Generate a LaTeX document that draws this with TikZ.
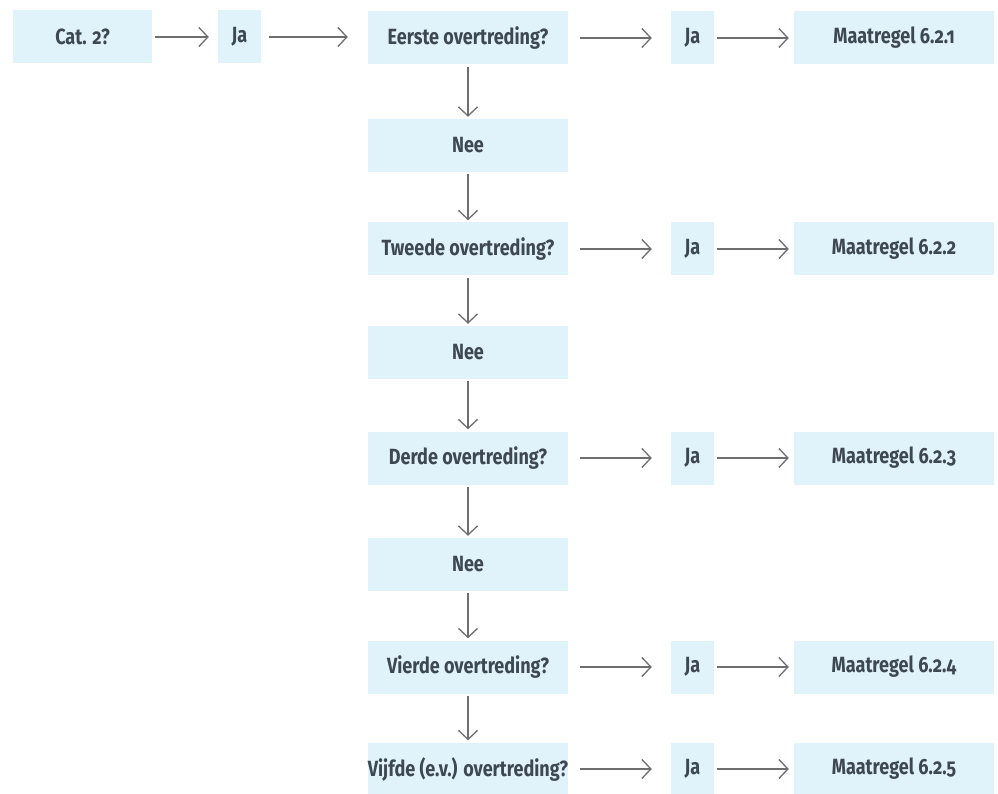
\documentclass[tikz,border=0pt]{standalone}
\usepackage{fontspec}
\setmainfont{Fira Sans}[Numbers=OldStyle, FakeStretch=0.82]
\usetikzlibrary{arrows.meta}
\definecolor{boxfill}{HTML}{E0F2FA}
\definecolor{boxtext}{HTML}{3D4852}
\definecolor{arrowgrey}{HTML}{6E6E6E}
\tikzset{
  box/.style={rectangle, fill=boxfill, draw=none, text=boxtext, minimum height=53pt,
    inner sep=0pt, font=\fontsize{22}{26}\selectfont\bfseries},
  widebox/.style={box, minimum width=200pt},
  jabox/.style={box, minimum width=43pt},
  catbox/.style={box, minimum width=139pt},
  arr/.style={draw=arrowgrey, line width=1.3pt, -{Straight Barb[length=9pt,width=19pt,line width=1.3pt]}}
}
\begin{document}
\begin{tikzpicture}[x=1pt,y=-1pt]
\useasboundingbox (0,0) rectangle (998,794);
% row 1
\node[catbox] (cat) at (82.5,37) {Cat. 2?};
\node[jabox] (ja0) at (239.5,37) {Ja};
\node[widebox] (e1) at (468,38) {Eerste overtreding?};
\node[jabox] (ja1) at (692.5,38) {Ja};
\node[widebox] (m1) at (894,38) {Maatregel 6.2.1};
\node[widebox] (n1) at (468,145.5) {Nee};
% row 2
\node[widebox] (e2) at (468,249) {Tweede overtreding?};
\node[jabox] (ja2) at (692.5,249) {Ja};
\node[widebox] (m2) at (894,249) {Maatregel 6.2.2};
\node[widebox] (n2) at (468,352.5) {Nee};
% row 3
\node[widebox] (e3) at (468,458) {Derde overtreding?};
\node[jabox] (ja3) at (692.5,458) {Ja};
\node[widebox] (m3) at (894,458) {Maatregel 6.2.3};
\node[widebox] (n3) at (468,564.5) {Nee};
% row 4
\node[widebox] (e4) at (468,667) {Vierde overtreding?};
\node[jabox] (ja4) at (692.5,667) {Ja};
\node[widebox] (m4) at (894,667) {Maatregel 6.2.4};
% row 5
\node[widebox] (e5) at (468,769) {Vijfde (e.v.) overtreding?};
\node[jabox] (ja5) at (692.5,769) {Ja};
\node[widebox] (m5) at (894,769) {Maatregel 6.2.5};
% horizontal connectors
\draw[arr] ([xshift=3pt]cat.east) -- ([xshift=-9pt]ja0.west);
\draw[arr] ([xshift=8pt]ja0.east) -- ([xshift=-20pt]ja0.east -| e1.west);
\foreach \i in {1,...,5}{
  \draw[arr] ([xshift=12pt]e\i.east) -- ([xshift=-19pt]ja\i.west);
  \draw[arr] ([xshift=3pt]ja\i.east) -- ([xshift=-5pt]m\i.west);
}
% vertical connectors
\draw[arr] ([yshift=-2pt]e1.south) -- ([yshift=2pt]n1.north);
\draw[arr] ([yshift=-2pt]n1.south) -- ([yshift=2pt]e2.north);
\draw[arr] ([yshift=-2pt]e2.south) -- ([yshift=2pt]n2.north);
\draw[arr] ([yshift=-2pt]n2.south) -- ([yshift=2pt]e3.north);
\draw[arr] ([yshift=-2pt]e3.south) -- ([yshift=2pt]n3.north);
\draw[arr] ([yshift=-2pt]n3.south) -- ([yshift=2pt]e4.north);
\draw[arr] ([yshift=-2pt]e4.south) -- ([yshift=2pt]e5.north);
\end{tikzpicture}
\end{document}
